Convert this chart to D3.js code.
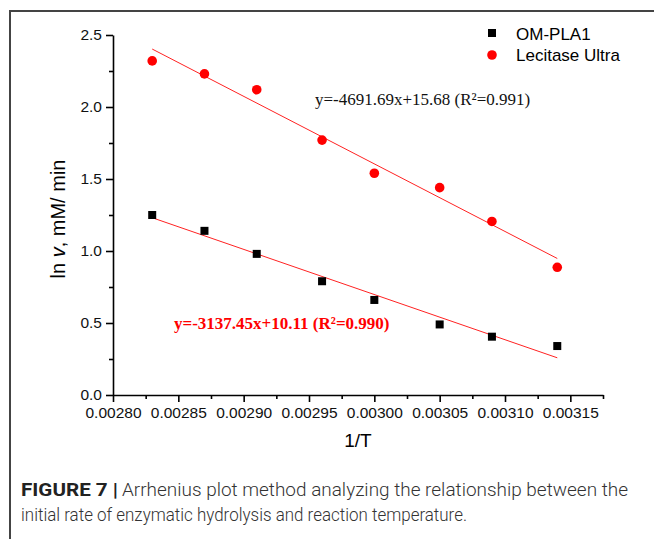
<!DOCTYPE html>
<html>
<head>
<meta charset="utf-8">
<script src="https://cdn.jsdelivr.net/npm/d3@7.9.0/dist/d3.min.js"></script>
<style>
  body { margin: 0; background: #fff; }
  svg { display: block; }
  .axis text { font-family: "Liberation Sans", Arial, sans-serif; font-size: 15.5px; fill: #111; }
  .axis path, .axis line { stroke: #000; }
</style>
</head>
<body>
<svg id="chart" width="654" height="539"></svg>
<script>
// 1/T values (x)
const invT = [0.00283, 0.00287, 0.00291, 0.00296, 0.00300, 0.00305, 0.00309, 0.00314];
// ln v for each enzyme
const omPla1 = [1.25, 1.14, 0.98, 0.79, 0.66, 0.49, 0.405, 0.34];
const lecitase = [2.32, 2.23, 2.12, 1.77, 1.54, 1.44, 1.205, 0.887];
// linear fits shown on the chart
const fitLecitase = { slope: -4691.69, intercept: 15.68 };
const fitOm = { slope: -3137.45, intercept: 10.11 };
const xTicks = [0.00280, 0.00285, 0.00290, 0.00295, 0.00300, 0.00305, 0.00310, 0.00315];
const yTicks = [0.0, 0.5, 1.0, 1.5, 2.0, 2.5];

const svg = d3.select('#chart');

// frame round the figure (left + top edges visible)
svg.append('path')
  .attr('d', 'M10,539 L10,11 L654,11')
  .attr('fill', 'none')
  .attr('stroke', '#444')
  .attr('stroke-width', 2);

const x = d3.scaleLinear().domain([0.0028, 0.003175]).range([113, 603]);
const y = d3.scaleLinear().domain([0, 2.5]).range([395, 35]);

// minor ticks
const xMinor = d3.range(0.002825, 0.0031751, 0.00005);
const yMinor = d3.range(0.25, 2.5, 0.5);

svg.append('g').attr('class', 'axis')
  .attr('transform', 'translate(0,395)')
  .call(d3.axisBottom(x).tickValues(xMinor).tickFormat('').tickSize(4).tickSizeOuter(0))
  .call(g => g.select('.domain').remove());
svg.append('g').attr('class', 'axis')
  .attr('transform', 'translate(113,0)')
  .call(d3.axisLeft(y).tickValues(yMinor).tickFormat('').tickSize(4).tickSizeOuter(0))
  .call(g => g.select('.domain').remove());

svg.append('g').attr('class', 'axis')
  .attr('transform', 'translate(0,395)')
  .call(d3.axisBottom(x).tickValues(xTicks).tickFormat(d3.format('.5f')).tickSize(7).tickSizeOuter(0).tickPadding(5));
svg.append('g').attr('class', 'axis')
  .attr('transform', 'translate(113,0)')
  .call(d3.axisLeft(y).tickValues(yTicks).tickFormat(d3.format('.1f')).tickSize(7).tickSizeOuter(0).tickPadding(4));
svg.selectAll('.axis path, .axis line').attr('stroke-width', 1.6);

// axis titles
svg.append('text')
  .attr('x', 358).attr('y', 447)
  .attr('text-anchor', 'middle')
  .style('font-family', '"Liberation Sans", Arial, sans-serif')
  .style('font-size', '19px')
  .text('1/T');

const yTitle = svg.append('text')
  .attr('transform', 'translate(65,219) rotate(-90)')
  .attr('text-anchor', 'middle')
  .style('font-family', '"Liberation Sans", Arial, sans-serif')
  .style('font-size', '20px');
yTitle.append('tspan').text('ln ');
yTitle.append('tspan').style('font-style', 'italic').text('v');
yTitle.append('tspan').text(', mM/ min');

// fit lines
const fitLine = (fit) => d3.line()
  .x(d => x(d))
  .y(d => y(fit.slope * d + fit.intercept));
const ends = [invT[0], invT[invT.length - 1]];

svg.append('path')
  .attr('d', fitLine(fitLecitase)(ends))
  .attr('fill', 'none').attr('stroke', '#f22').attr('stroke-width', 1);
svg.append('path')
  .attr('d', fitLine(fitOm)(ends))
  .attr('fill', 'none').attr('stroke', '#f22').attr('stroke-width', 1);

// markers
const sq = 8;
svg.append('g').selectAll('rect')
  .data(invT.map((t, i) => [t, omPla1[i]]))
  .join('rect')
  .attr('x', d => x(d[0]) - sq / 2)
  .attr('y', d => y(d[1]) - sq / 2)
  .attr('width', sq).attr('height', sq)
  .attr('fill', '#000');

svg.append('g').selectAll('circle')
  .data(invT.map((t, i) => [t, lecitase[i]]))
  .join('circle')
  .attr('cx', d => x(d[0]))
  .attr('cy', d => y(d[1]))
  .attr('r', 4.8)
  .attr('fill', '#f00');

// equations
svg.append('text')
  .attr('x', 315).attr('y', 105)
  .style('font-family', '"Liberation Serif", "Times New Roman", serif')
  .style('font-size', '17px')
  .attr('fill', '#111')
  .text('y=-4691.69x+15.68 (R²=0.991)');

svg.append('text')
  .attr('x', 174).attr('y', 329)
  .style('font-family', '"Liberation Serif", "Times New Roman", serif')
  .style('font-size', '17px')
  .style('font-weight', 'bold')
  .attr('fill', '#f00')
  .text('y=-3137.45x+10.11 (R²=0.990)');

// legend
const legend = svg.append('g').style('font-family', '"Liberation Sans", Arial, sans-serif').style('font-size', '17px');
legend.append('rect').attr('x', 492 - 4).attr('y', 33 - 4).attr('width', 8).attr('height', 8).attr('fill', '#000');
legend.append('text').attr('x', 516).attr('y', 39.5).text('OM-PLA1');
legend.append('circle').attr('cx', 492).attr('cy', 55).attr('r', 4.8).attr('fill', '#f00');
legend.append('text').attr('x', 516).attr('y', 61).text('Lecitase Ultra');

// caption
const cap = svg.append('g')
  .style('font-family', 'Roboto, "Liberation Sans", sans-serif')
  .style('font-size', '18px')
  .attr('fill', '#333');
cap.append('text').attr('x', 21).attr('y', 496)
  .style('font-weight', 'bold').attr('fill', '#222')
  .attr('textLength', 97).attr('lengthAdjust', 'spacingAndGlyphs')
  .text('FIGURE 7 |');
cap.append('text').attr('x', 122).attr('y', 496)
  .style('font-weight', 300)
  .attr('textLength', 506).attr('lengthAdjust', 'spacingAndGlyphs')
  .text('Arrhenius plot method analyzing the relationship between the');
cap.append('text').attr('x', 21).attr('y', 521)
  .style('font-weight', 300)
  .attr('textLength', 446).attr('lengthAdjust', 'spacingAndGlyphs')
  .text('initial rate of enzymatic hydrolysis and reaction temperature.');
</script>
</body>
</html>
